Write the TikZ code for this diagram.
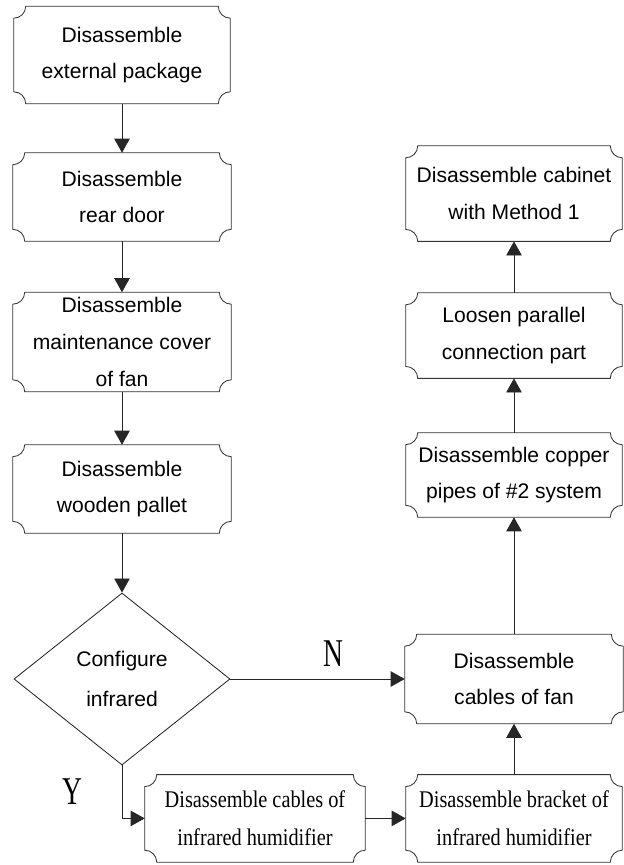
\documentclass[tikz,border=0pt]{standalone}
\usepackage{fontspec}
\setmainfont{Liberation Sans}
\newfontfamily\serfont[FakeStretch=0.85]{Liberation Serif}
\newfontfamily\labfont[FakeStretch=0.7]{Liberation Serif}
\usetikzlibrary{calc,shapes.geometric,arrows.meta}
\newcommand{\notchr}{0.3cm}
\begin{document}
\begin{tikzpicture}
    \tikzstyle{boxline} = [draw=black!80, line width=0.6pt]
    \tikzstyle{notched} = [shape=rectangle, align=center, inner sep=0pt,
        font=\fontsize{15}{26}\selectfont,
        append after command={\pgfextra{
            \draw[boxline] ($(\tikzlastnode.north west)+(\notchr,0)$)
                -- ($(\tikzlastnode.north east)+(-\notchr,0)$)
                arc[start angle=180, end angle=270, radius=\notchr]
                -- ($(\tikzlastnode.south east)+(0,\notchr)$)
                arc[start angle=90, end angle=180, radius=\notchr]
                -- ($(\tikzlastnode.south west)+(\notchr,0)$)
                arc[start angle=0, end angle=90, radius=\notchr]
                -- ($(\tikzlastnode.north west)+(0,-\notchr)$)
                arc[start angle=270, end angle=360, radius=\notchr]
                -- cycle;}}]
    \tikzstyle{serifbox} = [notched, font=\serfont\fontsize{17}{27}\selectfont]
    \tikzstyle{choice} = [shape=diamond, draw=black!85, line width=0.6pt, align=center,
        inner sep=0pt, minimum width=5.4cm, minimum height=4.3cm,
        font=\fontsize{15}{28}\selectfont]
    \tikzstyle{flow} = [draw=black!85, line width=0.6pt, -{Triangle[length=10pt,width=11pt]}]
    \tikzstyle{yesno} = [font=\labfont\fontsize{28}{28}\selectfont]

    \useasboundingbox (0, 0) rectangle (15.6, -21.625);

    \node[notched, minimum width=5.4cm, minimum height=2.425cm] (b1) at (3.05, -1.375)
        {Disassemble\\external package};
    \node[notched, minimum width=5.45cm, minimum height=2.2cm] (b2) at (3.05, -4.925)
        {Disassemble\\rear door};
    \node[notched, minimum width=5.45cm, minimum height=2.475cm] (b3) at (3.05, -8.55)
        {Disassemble\\maintenance cover\\of fan};
    \node[notched, minimum width=5.45cm, minimum height=2.2cm] (b4) at (3.05, -12.225)
        {Disassemble\\wooden pallet};

    \node[choice] (dia) at (3.05, -16.975) {Configure\\infrared};

    \node[serifbox, minimum width=5.5cm, minimum height=2.175cm] (b5) at (6.375, -20.46)
        {Disassemble cables of\\infrared humidifier};
    \node[serifbox, minimum width=5.4cm, minimum height=2.175cm] (b6) at (12.85, -20.46)
        {Disassemble bracket of\\infrared humidifier};

    \node[notched, minimum width=5.45cm, minimum height=2.225cm] (b7) at (12.85, -16.975)
        {Disassemble\\cables of fan};
    \node[notched, minimum width=5.4cm, minimum height=2.1cm] (b8) at (12.85, -11.875)
        {Disassemble copper\\pipes of \#2 system};
    \node[notched, minimum width=5.4cm, minimum height=2.125cm] (b9) at (12.85, -8.39)
        {Loosen parallel\\connection part};
    \node[notched, minimum width=5.4cm, minimum height=2.375cm] (b10) at (12.85, -4.84)
        {Disassemble cabinet\\with Method 1};

    \node[yesno] (no) at (8.33, -16.33) {N};
    \node[yesno] (yes) at (1.8, -19.8) {Y};

    \draw[flow] (b1) -- (b2);
    \draw[flow] (b2) -- (b3);
    \draw[flow] (b3) -- (b4);
    \draw[flow] (b4) -- (dia);
    \draw[flow] (dia.east) -- (b7);
    \draw[flow] (dia.south) |- (b5);
    \draw[flow] (b5) -- (b6);
    \draw[flow] (b6) -- (b7);
    \draw[flow] (b7) -- (b8);
    \draw[flow] (b8) -- (b9);
    \draw[flow] (b9) -- (b10);

\end{tikzpicture}
\end{document}
